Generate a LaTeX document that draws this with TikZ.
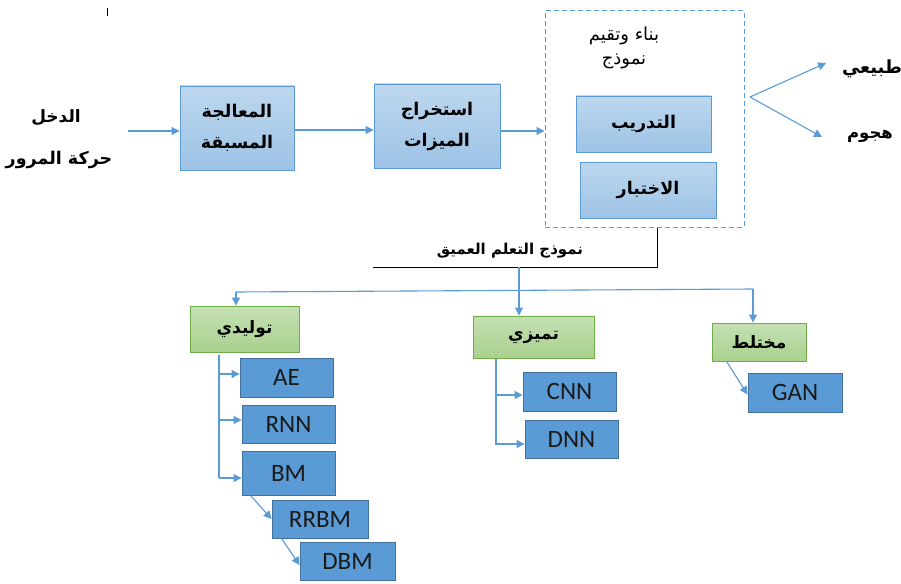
\documentclass[tikz,border=0pt]{standalone}
\usepackage{fontspec}
\setmainfont{Carlito}
\newfontfamily\arabicfont[Script=Arabic]{DejaVu Sans}
\TeXXeTstate=1
\usetikzlibrary{arrows.meta}

\definecolor{flowblue}{HTML}{5B9BD5}
\definecolor{procTop}{HTML}{BDD7EE}
\definecolor{procBot}{HTML}{9DC3E6}
\definecolor{procEdge}{HTML}{5B9BD5}
\definecolor{catTop}{HTML}{C5E0B4}
\definecolor{catBot}{HTML}{A9D18E}
\definecolor{catEdge}{HTML}{70AD47}
\definecolor{algFill}{HTML}{5B9BD5}
\definecolor{algEdge}{HTML}{41719C}
\definecolor{algText}{HTML}{1A1A1A}

% Arabic text, right to left
\newcommand{\arb}[1]{{\arabicfont\bfseries\beginR #1\endR}}
\newcommand{\arn}[1]{{\arabicfont\beginR #1\endR}}

\tikzset{
  x=1pt, y=-1pt,
  flow/.style={draw=flowblue, line width=1.1pt, -{Triangle[length=8pt,width=8pt]}},
  plain/.style={draw=flowblue, line width=1.1pt},
  procbox/.style={draw=procEdge, line width=0.9pt, top color=procTop, bottom color=procBot,
    align=center, font=\fontsize{17.5}{31}\selectfont, inner sep=0pt},
  catbox/.style={draw=catEdge, line width=0.9pt, top color=catTop, bottom color=catBot,
    font=\fontsize{17}{20}\selectfont, inner sep=0pt},
  algbox/.style={draw=algEdge, line width=0.9pt, fill=algFill, text=algText,
    font=\fontsize{25}{28}\selectfont, inner sep=0pt},
  label/.style={align=center, inner sep=1pt},
}

\begin{document}
\begin{tikzpicture}
\useasboundingbox (0,0) rectangle (901,583);
\fill[white] (0,0) rectangle (901,583);

% stray tick at the top
\draw[black, line width=0.6pt] (107,8) -- (107,16);

% input
\node[label, font=\fontsize{17}{20}\selectfont] (inA) at (56,118) {\arb{الدخل}};
\node[label, font=\fontsize{17.5}{20}\selectfont] (inB) at (59,160) {\arb{حركة المرور}};
\coordinate (inStart) at (128,131);

% processing chain
\node[procbox, minimum width=114, minimum height=84] (pre) at (237,128)
  {\arb{المعالجة}\\\arb{المسبقة}};
\node[procbox, minimum width=126, minimum height=84] (feat) at (437,126)
  {\arb{استخراج}\\\arb{الميزات}};

% model building and evaluation
\node[draw=flowblue, dash pattern=on 5pt off 3pt, line width=1pt, minimum width=199, minimum height=216, inner sep=0pt]
  (model) at (644.5,119) {};
\node[label, font=\fontsize{18}{24}\selectfont] (modelTitle) at (624,48)
  {\arn{بناء وتقيم}\\\arn{نموذج}};
\node[procbox, minimum width=135, minimum height=56] (train) at (643.5,124) {\arb{التدريب}};
\node[procbox, minimum width=136, minimum height=56] (test) at (648,190) {\arb{الاختبار}};

% outputs
\node[label, font=\fontsize{18}{20}\selectfont] (normal) at (872,69) {\arb{طبيعي}};
\node[label, font=\fontsize{16.5}{20}\selectfont] (attack) at (870,136) {\arb{هجوم}};
\coordinate (split) at (750,97);
\coordinate (normalTip) at (826,63);
\coordinate (attackTip) at (822,137);

\draw[flow] (inStart) -- (inStart -| pre.west);
\draw[flow] (pre.east |- 0,130) -- (feat.west |- 0,130);
\draw[flow] (feat.east |- 0,131) -- (model.west |- 0,131);
\draw[flow] (split) -- (normalTip);
\draw[flow] (split) -- (attackTip);

% deep learning branch
\coordinate (dlTurn) at (657,267);
\coordinate (dlEnd) at (373,267);
\draw[black, line width=1pt] (model.south -| dlTurn) -- (dlTurn) -- (dlEnd);
\node[label, font=\fontsize{15}{18}\selectfont] (dlText) at (510,251) {\arb{نموذج التعلم العميق}};

\node[catbox, minimum width=109, minimum height=46] (gen) at (244.5,329) {\arb{توليدي}};
\node[catbox, minimum width=121, minimum height=42] (disc) at (533.5,337) {\arb{تميزي}};
\node[catbox, minimum width=94, minimum height=38] (hyb) at (759,342) {\arb{مختلط}};

\coordinate (dlDrop) at (519,267);
\coordinate (busL) at (236,292);
\coordinate (busR) at (753,289);
\draw[flow] (dlDrop) -- (dlDrop |- disc.north);
\draw[plain] (busL) -- (busR);
\draw[flow] (busL) -- (busL |- gen.north);
\draw[flow] (busR) -- (busR |- hyb.north);

% generative models
\node[algbox, minimum width=93, minimum height=39] (ae) at (286.5,377.5) {AE};
\node[algbox, minimum width=93, minimum height=38] (rnn) at (288.5,424) {RNN};
\node[algbox, minimum width=93, minimum height=44] (bm) at (288.5,473) {BM};
\node[algbox, minimum width=96, minimum height=38] (rrbm) at (320,519) {RRBM};
\node[algbox, minimum width=95, minimum height=38] (dbm) at (347.5,561) {DBM};

\coordinate (gTrunk) at (219,355);
\draw[plain] (gTrunk) -- (gTrunk |- 0,478);
\draw[flow] (gTrunk |- 0,374) -- (ae.west |- 0,374);
\draw[flow] (gTrunk |- 0,420) -- (rnn.west |- 0,420);
\draw[flow] (gTrunk |- 0,478) -- (bm.west |- 0,478);
\draw[flow] ([xshift=9]bm.south west) -- (rrbm.west);
\draw[flow] ([xshift=10]rrbm.south west) -- ([yshift=-4]dbm.west);

% discriminative models
\node[algbox, minimum width=93, minimum height=39] (cnn) at (569.5,391.5) {CNN};
\node[algbox, minimum width=93, minimum height=38] (dnn) at (571.5,439) {DNN};
\coordinate (dTrunk) at (496,359);
\draw[plain] (dTrunk) -- (dTrunk |- 0,445);
\draw[flow] (dTrunk |- 0,395) -- (cnn.west |- 0,395);
\draw[flow] (dTrunk |- 0,444) -- (dnn.west |- 0,444);

% hybrid models
\node[algbox, minimum width=94, minimum height=39] (gan) at (795,392.5) {GAN};
\draw[flow] ([xshift=15]hyb.south west) -- ([yshift=-2]gan.west);
\end{tikzpicture}
\end{document}
